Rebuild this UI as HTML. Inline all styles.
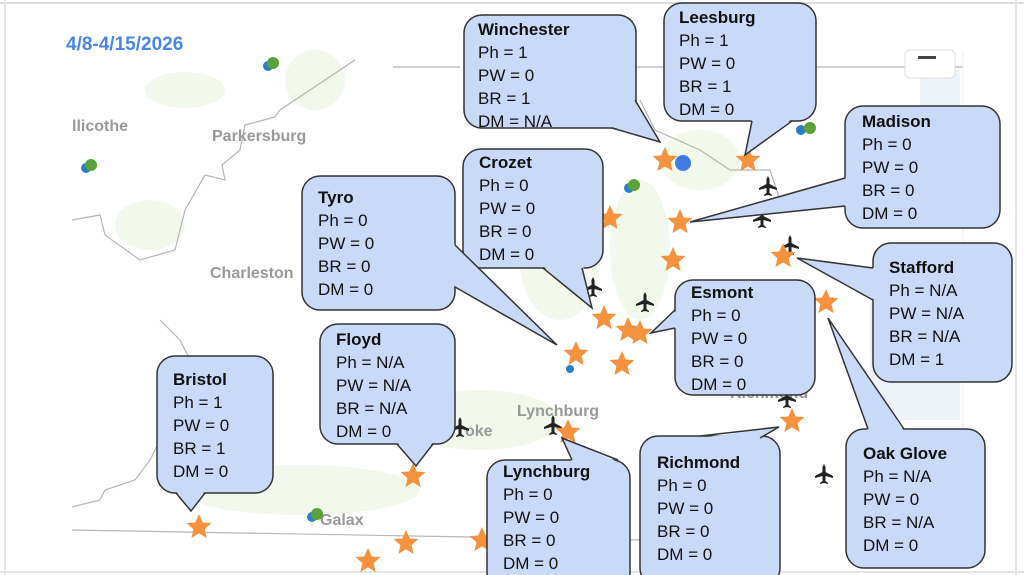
<!DOCTYPE html>
<html><head><meta charset="utf-8"><style>
html,body{margin:0;padding:0;background:#fff;}
svg{display:block;font-family:"Liberation Sans",sans-serif;}
.b{fill:#c9daf8;stroke:#333;stroke-width:1.5;}
.tf{fill:#c9daf8;stroke:none;}
.ts{fill:none;stroke:#333;stroke-width:1.5;}
.t{font-size:17px;fill:#111;}
.h{font-weight:bold;}
.ml{font-size:16px;fill:#999;font-weight:bold;}
.bd{fill:none;stroke:#b5b5b5;stroke-width:1.2;}
.st{fill:#f5923e;}
</style></head><body>
<svg width="1024" height="575" viewBox="0 0 1024 575">
<defs>
<polygon id="s" points="0,-13 3.8,-4.5 12.4,-4 5.6,2.2 7.6,11 0,6.4 -7.6,11 -5.6,2.2 -12.4,-4 -3.8,-4.5" class="st"/>
<g id="p"><path d="M0,-10 L1.5,-7 L1.5,-2 L9,2 L9,4 L1.5,2 L1.5,7 L4,9 L4,10 L0,9 L-4,10 L-4,9 L-1.5,7 L-1.5,2 L-9,4 L-9,2 L-1.5,-2 L-1.5,-7Z" fill="#222"/></g>
</defs>
<rect width="1024" height="575" fill="#fff"/>
<line x1="0" y1="3" x2="1024" y2="3" stroke="#ddd" stroke-width="2"/>
<line x1="5" y1="0" x2="5" y2="575" stroke="#e4e4e4" stroke-width="2"/>
<line x1="1016" y1="0" x2="1016" y2="575" stroke="#e4e4e4" stroke-width="2"/>
<line x1="0" y1="572" x2="1024" y2="572" stroke="#e4e4e4" stroke-width="2"/>
<g fill="#f3f8ec">
<ellipse cx="185" cy="90" rx="40" ry="18"/><ellipse cx="315" cy="80" rx="30" ry="30"/>
<ellipse cx="150" cy="225" rx="35" ry="25"/><ellipse cx="560" cy="260" rx="40" ry="60"/>
<ellipse cx="640" cy="250" rx="30" ry="70"/><ellipse cx="300" cy="490" rx="120" ry="25"/>
<ellipse cx="480" cy="420" rx="80" ry="30"/><ellipse cx="700" cy="160" rx="40" ry="30"/>
</g>
<g fill="#eef3fa"><rect x="870" y="300" width="90" height="120"/><rect x="920" y="70" width="40" height="150"/></g>
<polyline class="bd" points="72,220 100,215 105,235 140,260 175,250 185,210 205,175 225,180 222,165 240,150 245,125 275,117 280,110 310,90 340,70 355,60"/>
<polyline class="bd" points="72,530 470,537 640,540"/>
<polyline class="bd" points="393,67 460,67"/>
<polyline class="bd" points="635,67 963,67"/>
<polyline class="bd" points="72,507 100,500 105,490 135,480 150,460 160,440 180,420 210,410 215,385 190,360 180,340 160,320"/>
<polyline class="bd" points="640,100 655,130 700,150 730,170 770,170 780,200"/>
<line x1="963" y1="52" x2="963" y2="545" stroke="#eee"/>
<rect x="905" y="50" width="50" height="28" rx="5" fill="#fff" stroke="#ddd"/>
<rect x="918" y="56" width="18" height="3" fill="#444"/>
<text class="ml" x="72" y="131">llicothe</text>
<text class="ml" x="212" y="141">Parkersburg</text>
<text class="ml" x="210" y="278">Charleston</text>
<text class="ml" x="517" y="416">Lynchburg</text>
<text class="ml" x="465" y="436">oke</text>
<text class="ml" x="320" y="525">Galax</text>
<text class="ml" x="730" y="398">Richmond</text>
<g><circle cx="268" cy="66" r="5" fill="#2a7fc4"/><circle cx="273" cy="63" r="6" fill="#5aa33a"/>
<circle cx="86" cy="168" r="5" fill="#2a7fc4"/><circle cx="91" cy="165" r="6" fill="#5aa33a"/>
<circle cx="629" cy="188" r="5" fill="#2a7fc4"/><circle cx="634" cy="185" r="6" fill="#5aa33a"/>
<circle cx="801" cy="130" r="5" fill="#2a7fc4"/><circle cx="810" cy="128" r="6" fill="#5aa33a"/>
<circle cx="312" cy="517" r="5" fill="#2a7fc4"/><circle cx="317" cy="514" r="6" fill="#5aa33a"/>
<circle cx="570" cy="369" r="4" fill="#2a7fc4"/></g>
<circle cx="683" cy="163" r="8" fill="#3d7be6"/>
<use href="#p" x="768" y="186"/><use href="#p" x="762" y="218"/><use href="#p" x="593" y="287"/>
<use href="#p" x="645" y="302"/><use href="#p" x="787" y="398"/><use href="#p" x="553" y="425"/>
<use href="#p" x="460" y="427"/><use href="#p" x="824" y="474"/><use href="#p" x="790" y="245"/>
<use href="#s" x="665" y="160"/><use href="#s" x="748" y="160"/><use href="#s" x="610" y="218"/>
<use href="#s" x="680" y="222"/><use href="#s" x="673" y="260"/><use href="#s" x="783" y="256"/>
<use href="#s" x="826" y="302"/><use href="#s" x="604" y="318"/><use href="#s" x="628" y="330"/>
<use href="#s" x="640" y="333"/><use href="#s" x="576" y="354"/><use href="#s" x="622" y="364"/>
<use href="#s" x="568" y="432"/><use href="#s" x="792" y="421"/><use href="#s" x="413" y="476"/>
<use href="#s" x="199" y="527"/><use href="#s" x="406" y="543"/><use href="#s" x="368" y="561"/>
<use href="#s" x="482" y="540"/>
<text x="66" y="50" font-size="19" font-weight="bold" fill="#4a86e8">4/8-4/15/2026</text>

<g>
<rect class="b" x="464" y="15" width="172" height="113" rx="18"/>
<polygon class="tf" points="612,127 634,100 660,142"/><polyline class="ts" points="612,128 660,142 635,100"/>
<text class="t" x="478" y="35"><tspan class="h">Winchester</tspan><tspan x="478" dy="23">Ph = 1</tspan><tspan x="478" dy="23">PW = 0</tspan><tspan x="478" dy="23">BR = 1</tspan><tspan x="478" dy="23">DM = N/A</tspan></text>
</g>
<g>
<rect class="b" x="664" y="3" width="152" height="118" rx="18"/>
<polygon class="tf" points="752,119 745,155 792,119"/><polyline class="ts" points="752,121 745,155 792,121"/>
<text class="t" x="679" y="23"><tspan class="h">Leesburg</tspan><tspan x="679" dy="23">Ph = 1</tspan><tspan x="679" dy="23">PW = 0</tspan><tspan x="679" dy="23">BR = 1</tspan><tspan x="679" dy="23">DM = 0</tspan></text>
</g>
<g>
<rect class="b" x="845" y="106" width="155" height="122" rx="18"/>
<polygon class="tf" points="847,178 690,222 847,206"/><polyline class="ts" points="845,178 690,222 845,206"/>
<text class="t" x="862" y="127"><tspan class="h">Madison</tspan><tspan x="862" dy="23">Ph = 0</tspan><tspan x="862" dy="23">PW = 0</tspan><tspan x="862" dy="23">BR = 0</tspan><tspan x="862" dy="23">DM = 0</tspan></text>
</g>
<g>
<rect class="b" x="463" y="149" width="140" height="119" rx="18"/>
<polygon class="tf" points="543,266 592,308 583,266"/><polyline class="ts" points="543,268 592,308 582,268"/>
<text class="t" x="479" y="168"><tspan class="h">Crozet</tspan><tspan x="479" dy="23">Ph = 0</tspan><tspan x="479" dy="23">PW = 0</tspan><tspan x="479" dy="23">BR = 0</tspan><tspan x="479" dy="23">DM = 0</tspan></text>
</g>
<g>
<rect class="b" x="302" y="176" width="153" height="134" rx="18"/>
<polygon class="tf" points="453,243 557,345 453,285"/><polyline class="ts" points="455,245 557,345 455,287"/>
<text class="t" x="318" y="203"><tspan class="h">Tyro</tspan><tspan x="318" dy="23">Ph = 0</tspan><tspan x="318" dy="23">PW = 0</tspan><tspan x="318" dy="23">BR = 0</tspan><tspan x="318" dy="23">DM = 0</tspan></text>
</g>
<g>
<rect class="b" x="675" y="280" width="140" height="115" rx="18"/>
<polygon class="tf" points="677,310 651,333 677,328"/><polyline class="ts" points="675,310 651,333 675,328"/>
<text class="t" x="691" y="298"><tspan class="h">Esmont</tspan><tspan x="691" dy="23">Ph = 0</tspan><tspan x="691" dy="23">PW = 0</tspan><tspan x="691" dy="23">BR = 0</tspan><tspan x="691" dy="23">DM = 0</tspan></text>
</g>
<g>
<rect class="b" x="873" y="243" width="139" height="139" rx="18"/>
<polygon class="tf" points="875,268 797,258 875,300"/><polyline class="ts" points="873,268 797,258 873,300"/>
<text class="t" x="889" y="273"><tspan class="h">Stafford</tspan><tspan x="889" dy="23">Ph = N/A</tspan><tspan x="889" dy="23">PW = N/A</tspan><tspan x="889" dy="23">BR = N/A</tspan><tspan x="889" dy="23">DM = 1</tspan></text>
</g>
<g>
<rect class="b" x="846" y="429" width="139" height="139" rx="18"/>
<polygon class="tf" points="868,431 828,318 904,431"/><polyline class="ts" points="868,429 828,318 904,429"/>
<text class="t" x="863" y="459"><tspan class="h">Oak Glove</tspan><tspan x="863" dy="23">Ph = N/A</tspan><tspan x="863" dy="23">PW = 0</tspan><tspan x="863" dy="23">BR = N/A</tspan><tspan x="863" dy="23">DM = 0</tspan></text>
</g>
<g>
<rect class="b" x="320" y="324" width="135" height="120" rx="18"/>
<polygon class="tf" points="397,442 416,466 433,442"/><polyline class="ts" points="397,444 416,466 433,444"/>
<text class="t" x="336" y="345"><tspan class="h">Floyd</tspan><tspan x="336" dy="23">Ph = N/A</tspan><tspan x="336" dy="23">PW = N/A</tspan><tspan x="336" dy="23">BR = N/A</tspan><tspan x="336" dy="23">DM = 0</tspan></text>
</g>
<g>
<rect class="b" x="157" y="356" width="116" height="137" rx="18"/>
<polygon class="tf" points="176,491 191,511 205,491"/><polyline class="ts" points="176,493 191,511 205,493"/>
<text class="t" x="173" y="385"><tspan class="h">Bristol</tspan><tspan x="173" dy="23">Ph = 1</tspan><tspan x="173" dy="23">PW = 0</tspan><tspan x="173" dy="23">BR = 1</tspan><tspan x="173" dy="23">DM = 0</tspan></text>
</g>
<g>
<rect class="b" x="487" y="460" width="143" height="130" rx="18"/>
<polygon class="tf" points="572,462 562,438 618,462"/><polyline class="ts" points="572,460 562,438 618,460"/>
<text class="t" x="503" y="477"><tspan class="h">Lynchburg</tspan><tspan x="503" dy="23">Ph = 0</tspan><tspan x="503" dy="23">PW = 0</tspan><tspan x="503" dy="23">BR = 0</tspan><tspan x="503" dy="23">DM = 0</tspan></text>
</g>
<g>
<rect class="b" x="640" y="436" width="140" height="150" rx="18"/>
<polygon class="tf" points="700,438 779,427 760,438"/><polyline class="ts" points="700,436 779,427 760,438"/>
<text class="t" x="657" y="468"><tspan class="h">Richmond</tspan><tspan x="657" dy="23">Ph = 0</tspan><tspan x="657" dy="23">PW = 0</tspan><tspan x="657" dy="23">BR = 0</tspan><tspan x="657" dy="23">DM = 0</tspan></text>
</g>
</svg>
</body></html>
